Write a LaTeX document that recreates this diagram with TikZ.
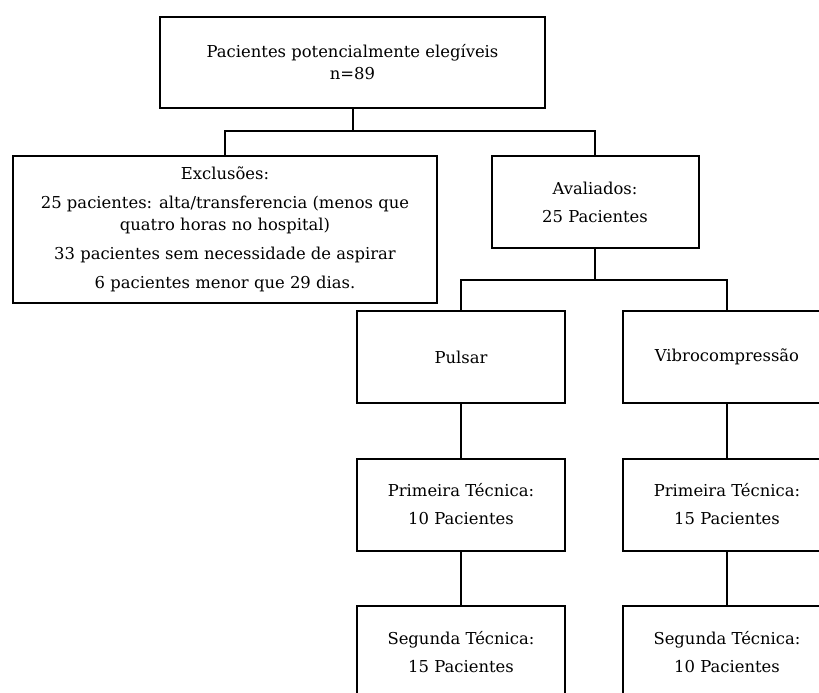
\documentclass[tikz,border=0pt]{standalone}
\usepackage{fontspec}
\setmainfont{DejaVu Serif}
\begin{document}
\begin{tikzpicture}[x=1pt,y=-1pt,
    caixa/.style={draw, line width=2pt, align=center, inner sep=0pt,
      font=\fontsize{16.4}{22}\selectfont},
    liga/.style={line width=2pt}]
  \useasboundingbox (0,0) rectangle (819,693);
  \clip (0,0) rectangle (819,693);
  % nivel 1
  \node[caixa, minimum width=385pt, minimum height=91pt] (elegiveis) at (352.5,62.5)
    {Pacientes potencialmente elegíveis\\n=89};
  % nivel 2
  \node[caixa, minimum width=424pt, minimum height=147pt] (exclusoes) at (225,229)
    {Exclusões:\\[7pt]25 pacientes: alta/transferencia (menos que\\quatro horas no hospital)\\[7pt]
     33 pacientes sem necessidade de aspirar\\[7pt]6 pacientes menor que 29 dias.};
  \node[caixa, minimum width=207pt, minimum height=92pt] (avaliados) at (595,202)
    {Avaliados:\\[6pt]25 Pacientes};
  % tecnicas
  \node[caixa, minimum width=208pt, minimum height=92pt] (pulsar) at (461,357) {Pulsar};
  \node[caixa, minimum width=208pt, minimum height=92pt] (vibro) at (727,357) {Vibrocompressão};
  \node[caixa, minimum width=208pt, minimum height=92pt] (prim1) at (461,504.5)
    {Primeira Técnica:\\[6pt]10 Pacientes};
  \node[caixa, minimum width=208pt, minimum height=92pt] (prim2) at (727,504.5)
    {Primeira Técnica:\\[6pt]15 Pacientes};
  \node[caixa, minimum width=208pt, minimum height=92pt] (seg1) at (461,652)
    {Segunda Técnica:\\[6pt]15 Pacientes};
  \node[caixa, minimum width=208pt, minimum height=92pt] (seg2) at (727,652)
    {Segunda Técnica:\\[6pt]10 Pacientes};
  % ligacoes
  \coordinate (j1) at (352.5,131);
  \coordinate (j2) at (595,280);
  \draw[liga] (elegiveis) -- (j1);
  \draw[liga] (exclusoes.north) |- (j1) -| (avaliados.north);
  \draw[liga] (avaliados) -- (j2);
  \draw[liga] (pulsar.north) |- (j2) -| (vibro.north);
  \draw[liga] (pulsar) -- (prim1);
  \draw[liga] (prim1) -- (seg1);
  \draw[liga] (vibro) -- (prim2);
  \draw[liga] (prim2) -- (seg2);
\end{tikzpicture}
\end{document}
